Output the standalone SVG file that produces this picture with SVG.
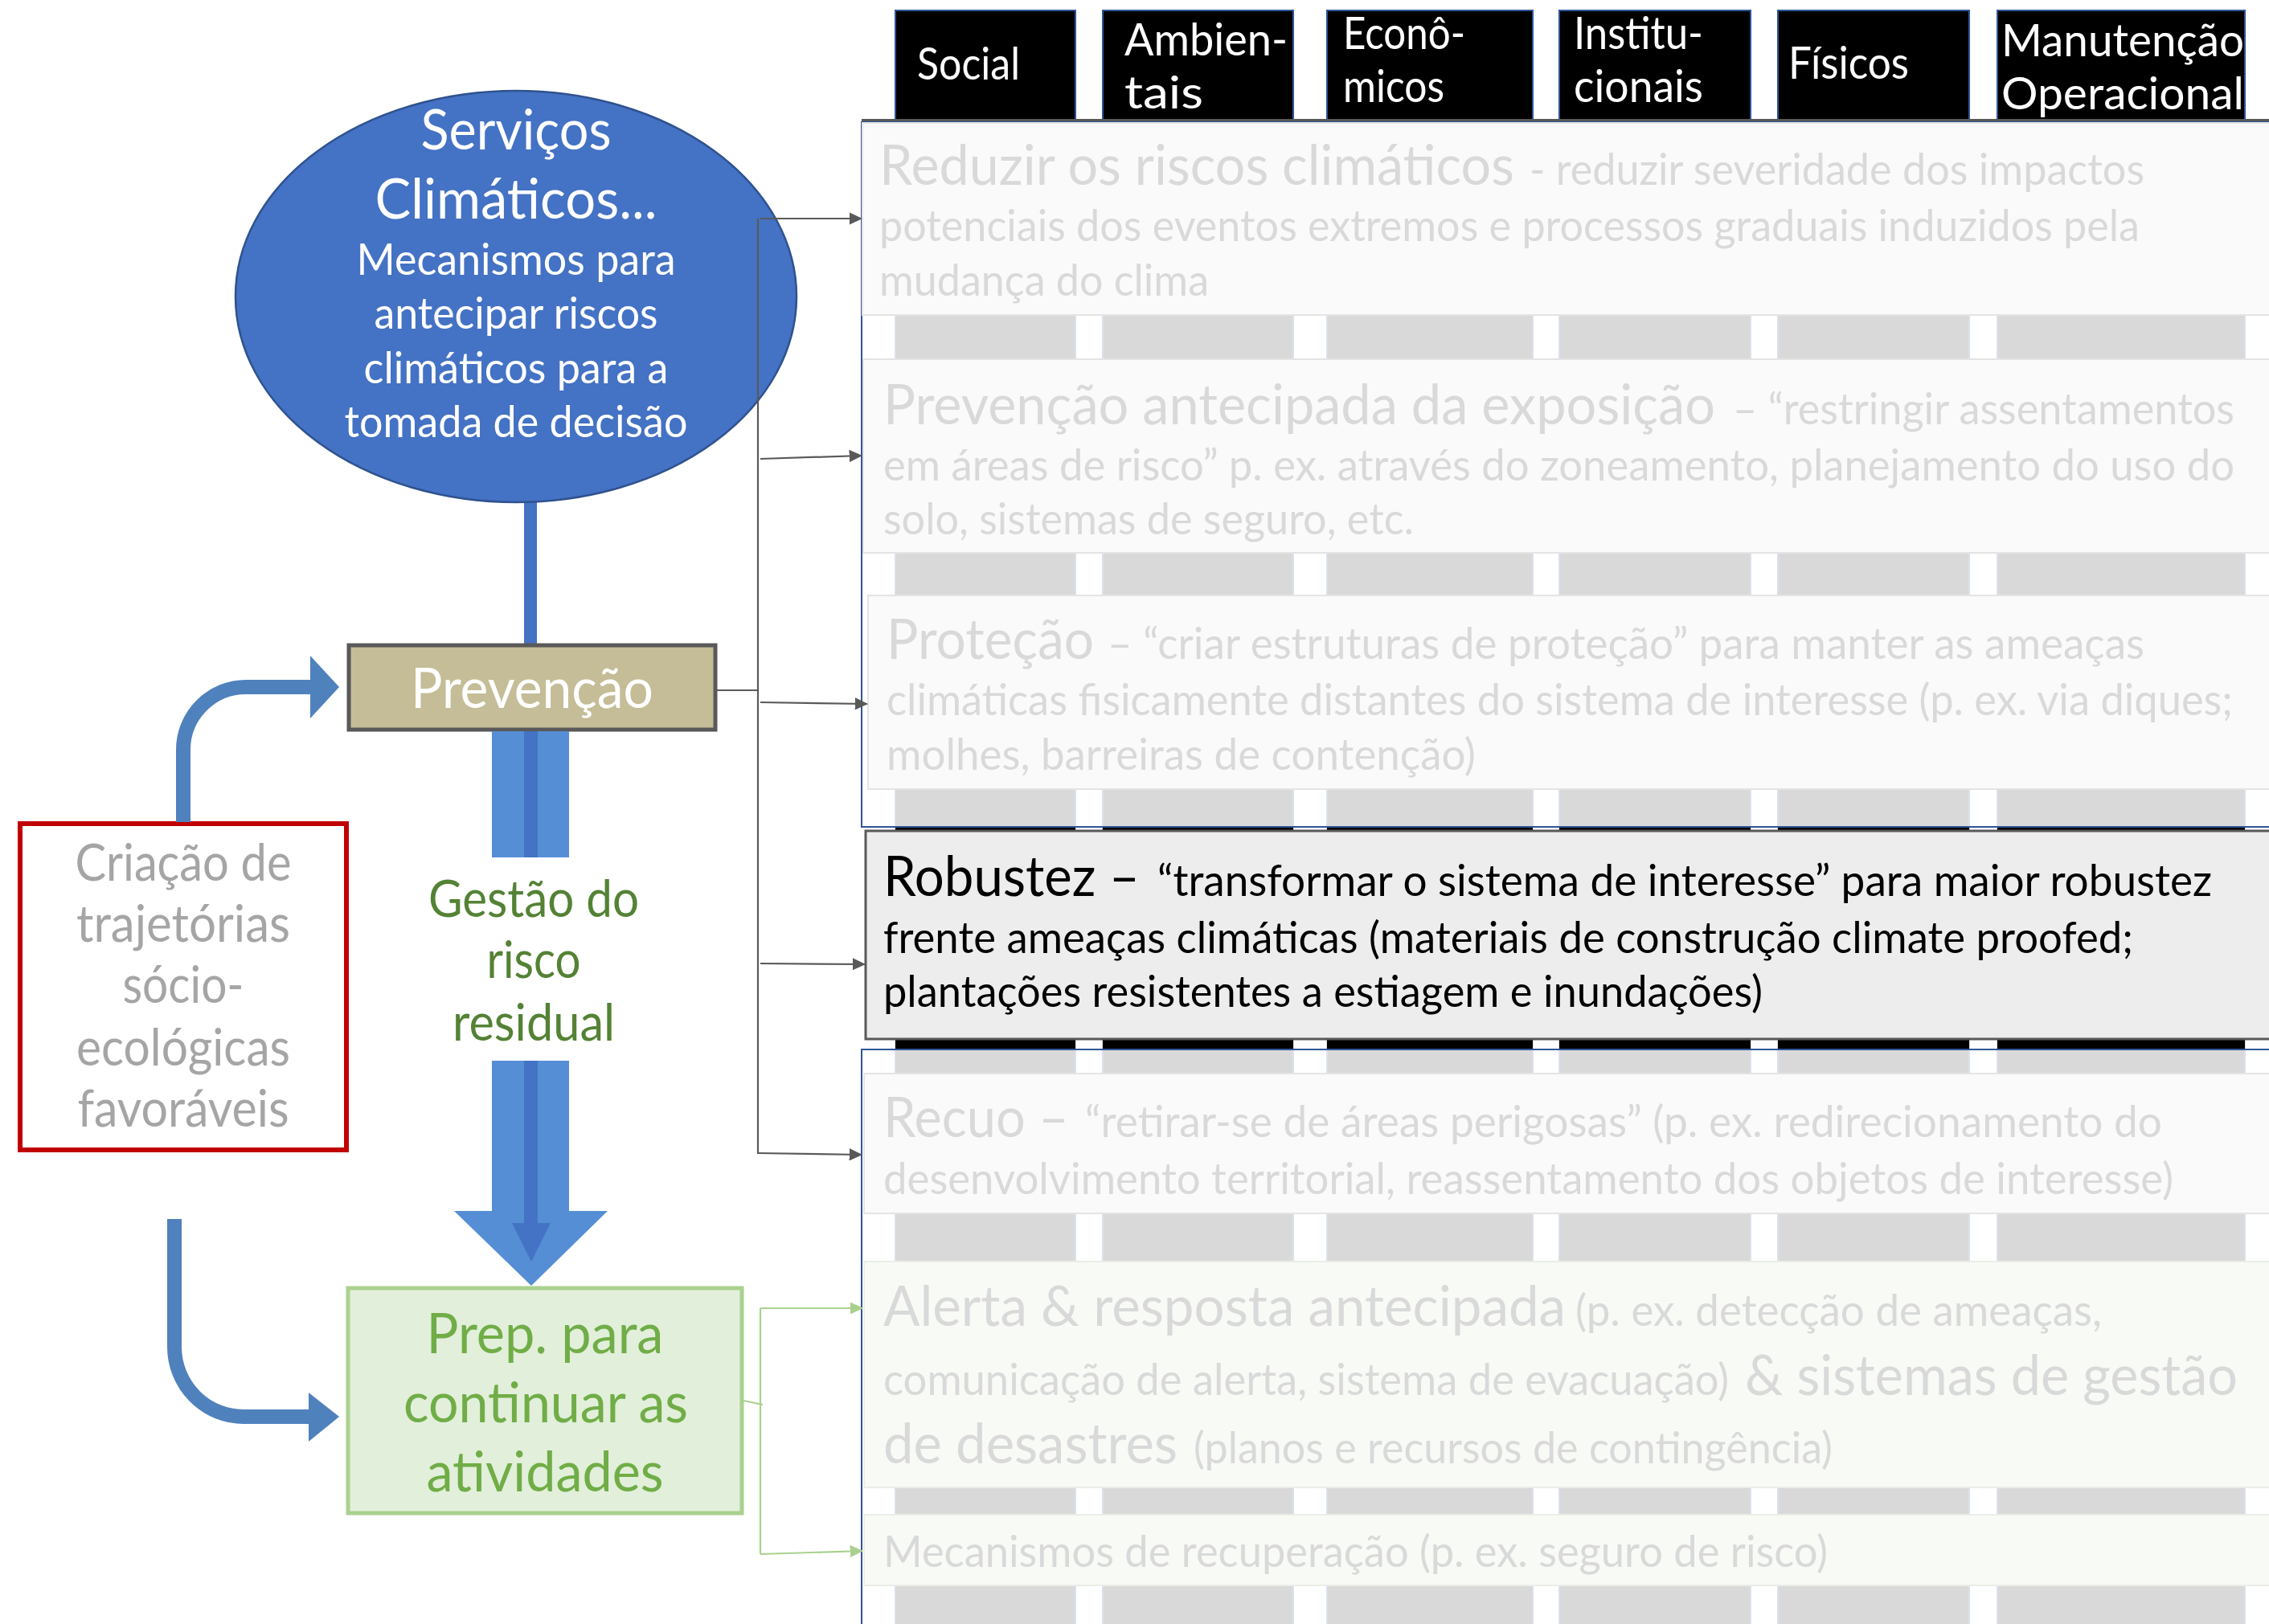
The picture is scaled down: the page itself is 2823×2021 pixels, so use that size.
<svg xmlns="http://www.w3.org/2000/svg" width="2823" height="2021" viewBox="0 0 2823 2021">
<defs>
<style>
text{font-family:Lato,"Open Sans","Liberation Sans",sans-serif}
.hdr{font-size:56px;fill:#ffffff}
.hcol{fill:#000000;stroke:#2F5597;stroke-width:2}
.col{fill:#D9D9D9;stroke:#DAE1EC;stroke-width:2}
.bcol{fill:#000000}
.frame{fill:none;stroke:#2F5597;stroke-width:2}
.panel{fill:#FAFAFA;stroke:#E4E4E4;stroke-width:2}
.gpanel{fill:#F8FAF6;stroke:#EAEEE6;stroke-width:2}
.lt{fill:#D9D9D9}
.dk{fill:#000000}
.big{font-size:70px}
.sm{font-size:55px}
.conn{stroke:#595959;stroke-width:2.2;fill:none}
.gconn{stroke:#A9D18E;stroke-width:2.2;fill:none}
.wt{fill:#ffffff}
</style>
<marker id="ah" markerWidth="7.5" markerHeight="7" refX="7" refY="3.5" orient="auto" markerUnits="strokeWidth"><path d="M0,0 L7.5,3.5 L0,7 z" fill="#595959"/></marker>
<marker id="gah" markerWidth="7.5" markerHeight="7" refX="7" refY="3.5" orient="auto" markerUnits="strokeWidth"><path d="M0,0 L7.5,3.5 L0,7 z" fill="#A9D18E"/></marker>
</defs>
<rect x="0" y="0" width="2823" height="2021" fill="#ffffff"/>

<g id="columns">
<rect class="col" x="1114" y="150" width="224" height="1880"/>
<rect class="col" x="1372" y="150" width="237" height="1880"/>
<rect class="col" x="1651" y="150" width="256" height="1880"/>
<rect class="col" x="1940" y="150" width="238" height="1880"/>
<rect class="col" x="2212" y="150" width="238" height="1880"/>
<rect class="col" x="2485" y="150" width="308" height="1880"/>
<rect class="bcol" x="1114" y="1028" width="224" height="278"/>
<rect class="bcol" x="1372" y="1028" width="237" height="278"/>
<rect class="bcol" x="1651" y="1028" width="256" height="278"/>
<rect class="bcol" x="1940" y="1028" width="238" height="278"/>
<rect class="bcol" x="2212" y="1028" width="238" height="278"/>
<rect class="bcol" x="2485" y="1028" width="308" height="278"/>
</g>

<g id="header-social"><rect class="hcol" x="1114" y="13" width="224" height="137"/><text class="hdr" x="1141" y="99" textLength="128" lengthAdjust="spacingAndGlyphs">Social</text></g>
<g id="header-ambientais"><rect class="hcol" x="1372" y="13" width="237" height="137"/><text class="hdr" x="1399" y="69" textLength="203" lengthAdjust="spacingAndGlyphs">Ambien-</text><text class="hdr" x="1399" y="135" textLength="98" lengthAdjust="spacingAndGlyphs">tais</text></g>
<g id="header-economicos"><rect class="hcol" x="1651" y="13" width="256" height="137"/><text class="hdr" x="1671" y="61" textLength="152" lengthAdjust="spacingAndGlyphs">Econô-</text><text class="hdr" x="1671" y="127" textLength="126" lengthAdjust="spacingAndGlyphs">micos</text></g>
<g id="header-institucionais"><rect class="hcol" x="1940" y="13" width="238" height="137"/><text class="hdr" x="1958" y="61" textLength="161" lengthAdjust="spacingAndGlyphs">Institu-</text><text class="hdr" x="1958" y="127" textLength="161" lengthAdjust="spacingAndGlyphs">cionais</text></g>
<g id="header-fisicos"><rect class="hcol" x="2212" y="13" width="238" height="137"/><text class="hdr" x="2225" y="98" textLength="150" lengthAdjust="spacingAndGlyphs">Físicos</text></g>
<g id="header-manutencao"><rect class="hcol" x="2485" y="13" width="308" height="137"/><text class="hdr" x="2490" y="70" textLength="302" lengthAdjust="spacingAndGlyphs">Manutenção</text><text class="hdr" x="2490" y="136" textLength="302" lengthAdjust="spacingAndGlyphs">Operacional</text></g>

<g id="frames">
<line x1="1072" y1="149.5" x2="2823" y2="149.5" stroke="#595959" stroke-width="3"/>
<rect class="frame" x="1072" y="152" width="1800" height="877"/>
<rect class="frame" x="1072" y="1306" width="1800" height="800"/>
</g>

<g id="row-reduzir">
<rect class="panel" x="1073" y="153" width="1800" height="239"/>
<text class="lt big" x="1094" y="230" textLength="790" lengthAdjust="spacingAndGlyphs">Reduzir os riscos climáticos</text>
<text class="lt sm" x="1903" y="230" textLength="765" lengthAdjust="spacingAndGlyphs">- reduzir severidade dos impactos</text>
<text class="lt sm" x="1094" y="300" textLength="1568" lengthAdjust="spacingAndGlyphs">potenciais dos eventos extremos e processos graduais induzidos pela</text>
<text class="lt sm" x="1094" y="368" textLength="410" lengthAdjust="spacingAndGlyphs">mudança do clima</text>
</g>

<g id="row-prevencao-antecipada">
<rect class="panel" x="1074" y="447" width="1800" height="241"/>
<text class="lt big" x="1099" y="528" textLength="1035" lengthAdjust="spacingAndGlyphs">Prevenção antecipada da exposição</text>
<text class="lt sm" x="2156" y="528" textLength="624" lengthAdjust="spacingAndGlyphs">– “restringir assentamentos</text>
<text class="lt sm" x="1099" y="598" textLength="1681" lengthAdjust="spacingAndGlyphs">em áreas de risco” p. ex. através do zoneamento, planejamento do uso do</text>
<text class="lt sm" x="1099" y="665" textLength="660" lengthAdjust="spacingAndGlyphs">solo, sistemas de seguro, etc.</text>
</g>

<g id="row-protecao">
<rect class="panel" x="1080" y="741" width="1800" height="241"/>
<text class="lt big" x="1103" y="820" textLength="258" lengthAdjust="spacingAndGlyphs">Proteção</text>
<text class="lt sm" x="1378" y="820" textLength="1290" lengthAdjust="spacingAndGlyphs">– “criar estruturas de proteção” para manter as ameaças</text>
<text class="lt sm" x="1103" y="890" textLength="1675" lengthAdjust="spacingAndGlyphs">climáticas fisicamente distantes do sistema de interesse (p. ex. via diques;</text>
<text class="lt sm" x="1103" y="958" textLength="733" lengthAdjust="spacingAndGlyphs">molhes, barreiras de contenção)</text>
</g>

<g id="row-robustez">
<rect x="1077" y="1034" width="1800" height="259" fill="#EDEDED" stroke="#595959" stroke-width="3"/>
<text class="dk big" x="1099" y="1115" textLength="319" lengthAdjust="spacingAndGlyphs">Robustez –</text>
<text class="dk sm" x="1440" y="1115" textLength="1312" lengthAdjust="spacingAndGlyphs">“transformar o sistema de interesse” para maior robustez</text>
<text class="dk sm" x="1099" y="1186" textLength="1555" lengthAdjust="spacingAndGlyphs">frente ameaças climáticas (materiais de construção climate proofed;</text>
<text class="dk sm" x="1099" y="1253" textLength="1094" lengthAdjust="spacingAndGlyphs">plantações resistentes a estiagem e inundações)</text>
</g>

<g id="row-recuo">
<rect class="panel" x="1075" y="1336" width="1800" height="174"/>
<text class="lt big" x="1099" y="1415" textLength="231" lengthAdjust="spacingAndGlyphs">Recuo –</text>
<text class="lt sm" x="1350" y="1415" textLength="1340" lengthAdjust="spacingAndGlyphs">“retirar-se de áreas perigosas” (p. ex. redirecionamento do</text>
<text class="lt sm" x="1099" y="1486" textLength="1605" lengthAdjust="spacingAndGlyphs">desenvolvimento territorial, reassentamento dos objetos de interesse)</text>
</g>

<g id="row-alerta">
<rect class="gpanel" x="1075" y="1570" width="1800" height="281"/>
<text class="lt big" x="1099" y="1650" textLength="849" lengthAdjust="spacingAndGlyphs">Alerta &amp; resposta antecipada</text>
<text class="lt sm" x="1960" y="1650" textLength="655" lengthAdjust="spacingAndGlyphs">(p. ex. detecção de ameaças,</text>
<text class="lt sm" x="1099" y="1736" textLength="1052" lengthAdjust="spacingAndGlyphs">comunicação de alerta, sistema de evacuação)</text>
<text class="lt big" x="2171" y="1736" textLength="613" lengthAdjust="spacingAndGlyphs">&amp; sistemas de gestão</text>
<text class="lt big" x="1099" y="1821" textLength="366" lengthAdjust="spacingAndGlyphs">de desastres</text>
<text class="lt sm" x="1485" y="1821" textLength="795" lengthAdjust="spacingAndGlyphs">(planos e recursos de contingência)</text>
</g>

<g id="row-mecanismos">
<rect class="gpanel" x="1075" y="1885" width="1800" height="88"/>
<text class="lt sm" x="1099" y="1950" textLength="1175" lengthAdjust="spacingAndGlyphs">Mecanismos de recuperação (p. ex. seguro de risco)</text>
</g>

<g id="node-servicos">
<rect x="652" y="600" width="16" height="202" fill="#4472C4"/>
<ellipse cx="642" cy="369" rx="349" ry="256" fill="#4472C4" stroke="#2F528F" stroke-width="2.5"/>
<g class="wt" text-anchor="middle">
<text x="642" y="186" font-size="70" textLength="237" lengthAdjust="spacingAndGlyphs">Serviços</text>
<text x="642" y="272" font-size="70" textLength="351" lengthAdjust="spacingAndGlyphs">Climáticos...</text>
<text x="642" y="342" font-size="55" textLength="397" lengthAdjust="spacingAndGlyphs">Mecanismos para</text>
<text x="642" y="409" font-size="55" textLength="353" lengthAdjust="spacingAndGlyphs">antecipar riscos</text>
<text x="642" y="477" font-size="55" textLength="379" lengthAdjust="spacingAndGlyphs">climáticos para a</text>
<text x="642" y="544" font-size="55" textLength="427" lengthAdjust="spacingAndGlyphs">tomada de decisão</text>
</g>
</g>

<g id="node-prevencao">
<rect x="434" y="803" width="456" height="105" fill="#C4BD97" stroke="#595959" stroke-width="5"/>
<text x="662" y="881" font-size="70" fill="#ffffff" text-anchor="middle" textLength="302" lengthAdjust="spacingAndGlyphs">Prevenção</text>
</g>

<g id="node-gestao">
<rect x="612" y="910" width="96" height="157" fill="#558ED5"/>
<rect x="652" y="910" width="17" height="157" fill="#4472C4"/>
<path d="M612,1320 H708 V1507 H756 L661,1600 L565,1507 H612 Z" fill="#558ED5"/>
<path d="M652,1320 H669 V1522 H685 L661,1570 L637,1522 H652 Z" fill="#4472C4"/>
<g fill="#548235" font-size="63" text-anchor="middle">
<text x="664" y="1141" textLength="262" lengthAdjust="spacingAndGlyphs">Gestão do</text>
<text x="664" y="1217" textLength="117" lengthAdjust="spacingAndGlyphs">risco</text>
<text x="664" y="1295" textLength="202" lengthAdjust="spacingAndGlyphs">residual</text>
</g>
</g>

<g id="node-criacao">
<rect x="25" y="1025" width="406" height="406" fill="#ffffff" stroke="#C00000" stroke-width="6"/>
<g fill="#A5A5A5" font-size="63" text-anchor="middle">
<text x="228" y="1096" textLength="269" lengthAdjust="spacingAndGlyphs">Criação de</text>
<text x="228" y="1172" textLength="266" lengthAdjust="spacingAndGlyphs">trajetórias</text>
<text x="228" y="1248" textLength="151" lengthAdjust="spacingAndGlyphs">sócio-</text>
<text x="228" y="1326" textLength="266" lengthAdjust="spacingAndGlyphs">ecológicas</text>
<text x="228" y="1402" textLength="263" lengthAdjust="spacingAndGlyphs">favoráveis</text>
</g>
</g>

<g id="node-prep">
<rect x="433" y="1603" width="490" height="280" fill="#E2EFDA" stroke="#A9D18E" stroke-width="5"/>
<g fill="#70AD47" font-size="70" text-anchor="middle">
<text x="678" y="1684" textLength="295" lengthAdjust="spacingAndGlyphs">Prep. para</text>
<text x="679" y="1770" textLength="354" lengthAdjust="spacingAndGlyphs">continuar as</text>
<text x="678" y="1856" textLength="295" lengthAdjust="spacingAndGlyphs">atividades</text>
</g>
</g>

<g id="connectors">
<path d="M228,1023 V933 A78,78 0 0 1 306,855 H388" stroke="#4F81BD" stroke-width="18" fill="none"/>
<polygon points="386,816 422,855 386,894" fill="#4F81BD"/>
<path d="M217,1517 V1676 A86,87 0 0 0 303,1763 H386" stroke="#4F81BD" stroke-width="18" fill="none"/>
<polygon points="384,1733 422,1763 384,1794" fill="#4F81BD"/>

<line class="conn" x1="943" y1="272" x2="943" y2="1436"/>
<line class="conn" x1="892" y1="859" x2="943" y2="859"/>
<line class="conn" x1="946" y1="272" x2="1072" y2="272" marker-end="url(#ah)"/>
<line class="conn" x1="946" y1="571" x2="1072" y2="567" marker-end="url(#ah)"/>
<line class="conn" x1="946" y1="874" x2="1079" y2="876" marker-end="url(#ah)"/>
<line class="conn" x1="946" y1="1199" x2="1076" y2="1200" marker-end="url(#ah)"/>
<line class="conn" x1="943" y1="1435" x2="1072" y2="1437" marker-end="url(#ah)"/>

<line class="gconn" x1="925" y1="1743" x2="949" y2="1748"/>
<line class="gconn" x1="946" y1="1628" x2="946" y2="1934"/>
<line class="gconn" x1="946" y1="1628" x2="1073" y2="1628" marker-end="url(#gah)"/>
<line class="gconn" x1="946" y1="1934" x2="1073" y2="1930" marker-end="url(#gah)"/>
</g>
</svg>
